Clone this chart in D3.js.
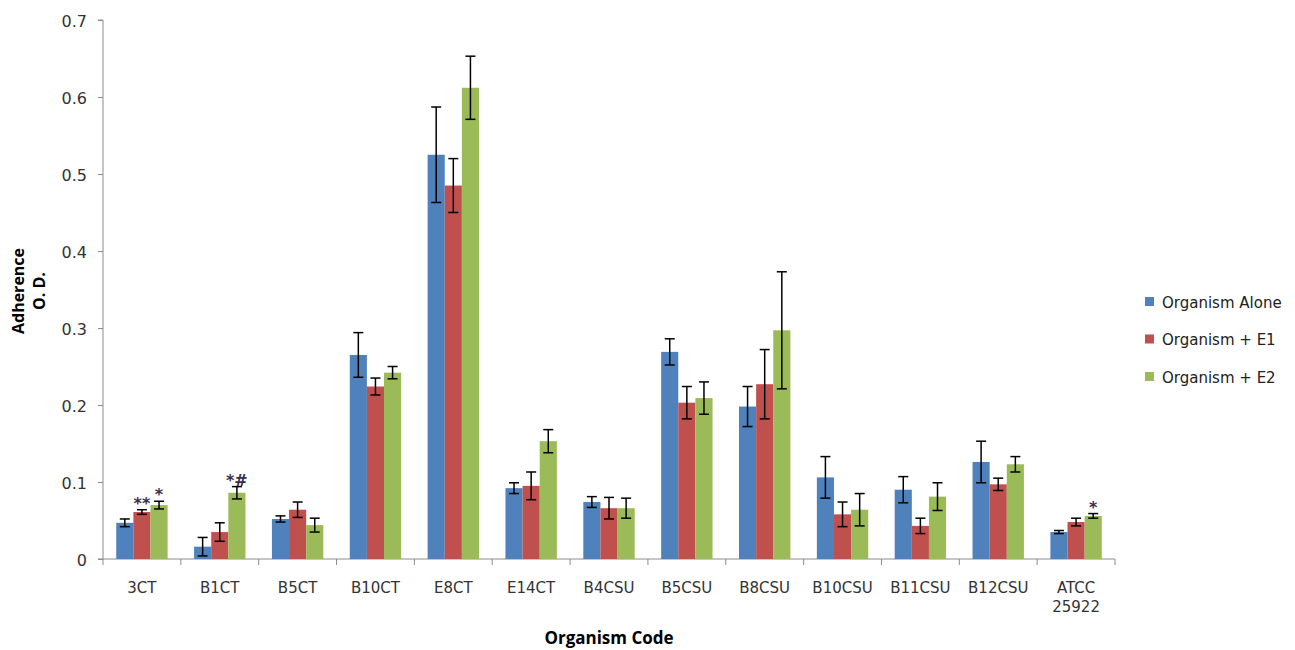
<!DOCTYPE html>
<html>
<head>
<meta charset="utf-8">
<script src="https://cdn.jsdelivr.net/npm/d3@7"></script>
<style>
  body { margin: 0; background: #fff; }
  text { font-family: "DejaVu Sans", sans-serif; }
</style>
</head>
<body>
<div id="chart"></div>
<script>
const width = 1295
const height = 650

const margin = { top: 20, bottom: 91, left: 103, right: 180 }

// data
const categories = ["3CT", "B1CT", "B5CT", "B10CT", "E8CT", "E14CT", "B4CSU", "B5CSU", "B8CSU", "B10CSU", "B11CSU", "B12CSU", "ATCC 25922"]
const seriesNames = ["Organism Alone", "Organism + E1", "Organism + E2"]
const aloneValues = [0.047, 0.016, 0.052, 0.265, 0.525, 0.092, 0.074, 0.269, 0.198, 0.106, 0.090, 0.126, 0.035]
const aloneErrors = [0.005, 0.012, 0.004, 0.029, 0.062, 0.007, 0.007, 0.017, 0.026, 0.027, 0.017, 0.027, 0.002]
const e1Values = [0.061, 0.035, 0.064, 0.224, 0.485, 0.095, 0.066, 0.203, 0.227, 0.058, 0.043, 0.097, 0.048]
const e1Errors = [0.003, 0.012, 0.010, 0.011, 0.035, 0.018, 0.014, 0.021, 0.045, 0.016, 0.010, 0.008, 0.005]
const e2Values = [0.070, 0.086, 0.044, 0.242, 0.612, 0.153, 0.066, 0.209, 0.297, 0.064, 0.081, 0.123, 0.056]
const e2Errors = [0.005, 0.008, 0.009, 0.008, 0.041, 0.015, 0.013, 0.021, 0.076, 0.021, 0.018, 0.010, 0.003]
const yTicks = [0, 0.1, 0.2, 0.3, 0.4, 0.5, 0.6, 0.7]
const annotations = [
  { category: "3CT", series: 1, label: "**" },
  { category: "3CT", series: 2, label: "*" },
  { category: "B1CT", series: 2, label: "*#" },
  { category: "ATCC 25922", series: 2, label: "*" }
]
const colors = ["#4F81BD", "#C0504D", "#9BBB59"]

const valueSets = [aloneValues, e1Values, e2Values]
const errorSets = [aloneErrors, e1Errors, e2Errors]
const data = categories.map((c, i) => ({
  category: c,
  bars: seriesNames.map((s, k) => ({ series: k, category: c, value: valueSets[k][i], error: errorSets[k][i] }))
}))

const svg = d3.select("#chart").append("svg").attr("width", width).attr("height", height)
const innerW = 1115 - margin.left
const innerH = height - margin.top - margin.bottom
const g = svg.append("g").attr("transform", `translate(${margin.left}, ${margin.top})`)

const x = d3.scaleBand().domain(categories).range([0, innerW]).paddingInner(0).paddingOuter(0)
const xSub = d3.scaleBand().domain([0, 1, 2]).range([x.bandwidth() * 0.17, x.bandwidth() * 0.83])
const y = d3.scaleLinear().domain([0, 0.7]).range([innerH, 0])

// y axis
const yAxis = d3.axisLeft(y).tickValues(yTicks).tickFormat(d => d === 0 ? "0" : d3.format(".1f")(d)).tickSize(5).tickPadding(11)
const yAxisGroup = g.append("g").call(yAxis)
yAxisGroup.select(".domain").attr("stroke", "#8c8c8c").attr("d", `M-5,${innerH}H0V0H-5`)
yAxisGroup.selectAll(".tick line").attr("stroke", "#8c8c8c")
yAxisGroup.selectAll("text").attr("font-size", 16).attr("fill", "#333").attr("dy", "0.4em")

// x axis
const xAxisGroup = g.append("g").attr("transform", `translate(0, ${innerH})`)
xAxisGroup.append("line").attr("x1", 0).attr("x2", innerW).attr("stroke", "#8c8c8c")
xAxisGroup.selectAll(".sep").data(d3.range(categories.length + 1)).enter().append("line")
  .attr("x1", i => i * x.step()).attr("x2", i => i * x.step())
  .attr("y1", 0).attr("y2", 6).attr("stroke", "#8c8c8c")
const xLabels = xAxisGroup.selectAll(".lab").data(categories).enter().append("text")
  .attr("x", d => x(d) + x.bandwidth() / 2)
  .attr("y", 34)
  .attr("text-anchor", "middle")
  .attr("font-size", 15)
  .attr("fill", "#333")
xLabels.each(function (d) {
  const parts = d.split(" ")
  d3.select(this).selectAll("tspan").data(parts).enter().append("tspan")
    .attr("x", x(d) + x.bandwidth() / 2)
    .attr("dy", (p, i) => i === 0 ? 0 : 19)
    .text(p => p)
})

// bars
const groups = g.selectAll(".grp").data(data).enter().append("g")
  .attr("transform", d => `translate(${x(d.category)}, 0)`)
groups.selectAll("rect").data(d => d.bars).enter().append("rect")
  .attr("x", d => xSub(d.series))
  .attr("y", d => y(d.value))
  .attr("width", xSub.bandwidth())
  .attr("height", d => innerH - y(d.value))
  .attr("fill", d => colors[d.series])

// error bars
const err = groups.selectAll(".err").data(d => d.bars).enter().append("g")
  .attr("transform", d => `translate(${xSub(d.series) + xSub.bandwidth() / 2}, 0)`)
  .attr("stroke", "#000").attr("stroke-width", 1.5)
err.append("line").attr("y1", d => y(d.value + d.error)).attr("y2", d => y(d.value - d.error))
err.append("line").attr("x1", -5).attr("x2", 5).attr("y1", d => y(d.value + d.error)).attr("y2", d => y(d.value + d.error))
err.append("line").attr("x1", -5).attr("x2", 5).attr("y1", d => y(d.value - d.error)).attr("y2", d => y(d.value - d.error))

// significance marks
g.selectAll(".ann").data(annotations).enter().append("text")
  .attr("x", d => x(d.category) + xSub(d.series) + xSub.bandwidth() / 2)
  .attr("y", d => {
    const i = categories.indexOf(d.category)
    return y(valueSets[d.series][i] + errorSets[d.series][i]) - 1
  })
  .attr("text-anchor", "middle")
  .attr("font-size", 16)
  .attr("font-weight", "bold")
  .attr("fill", "#3a2f4a")
  .text(d => d.label)

// axis titles
svg.append("text")
  .attr("x", margin.left + innerW / 2).attr("y", 644)
  .attr("text-anchor", "middle")
  .style("font-family", "'Open Sans', sans-serif")
  .attr("font-size", 17).attr("font-weight", "bold")
  .text("Organism Code")
const yTitle = svg.append("text")
  .attr("transform", "translate(24, 291) rotate(-90)")
  .attr("text-anchor", "middle")
  .style("font-family", "'Open Sans', sans-serif")
  .attr("font-size", 16).attr("font-weight", "bold")
yTitle.append("tspan").attr("x", 0).attr("dy", 0).text("Adherence")
yTitle.append("tspan").attr("x", 0).attr("dy", 21).text("O. D.")

// legend
const legend = svg.append("g").attr("transform", "translate(1145, 302)")
const items = legend.selectAll(".item").data(seriesNames).enter().append("g")
  .attr("transform", (d, i) => `translate(0, ${i * 37.5})`)
items.append("rect").attr("x", 0).attr("y", -5).attr("width", 9).attr("height", 9)
  .attr("fill", (d, i) => colors[i])
items.append("text").attr("x", 17).attr("y", 5.5)
  .attr("font-size", 15).attr("fill", "#222")
  .text(d => d)
</script>
</body>
</html>
